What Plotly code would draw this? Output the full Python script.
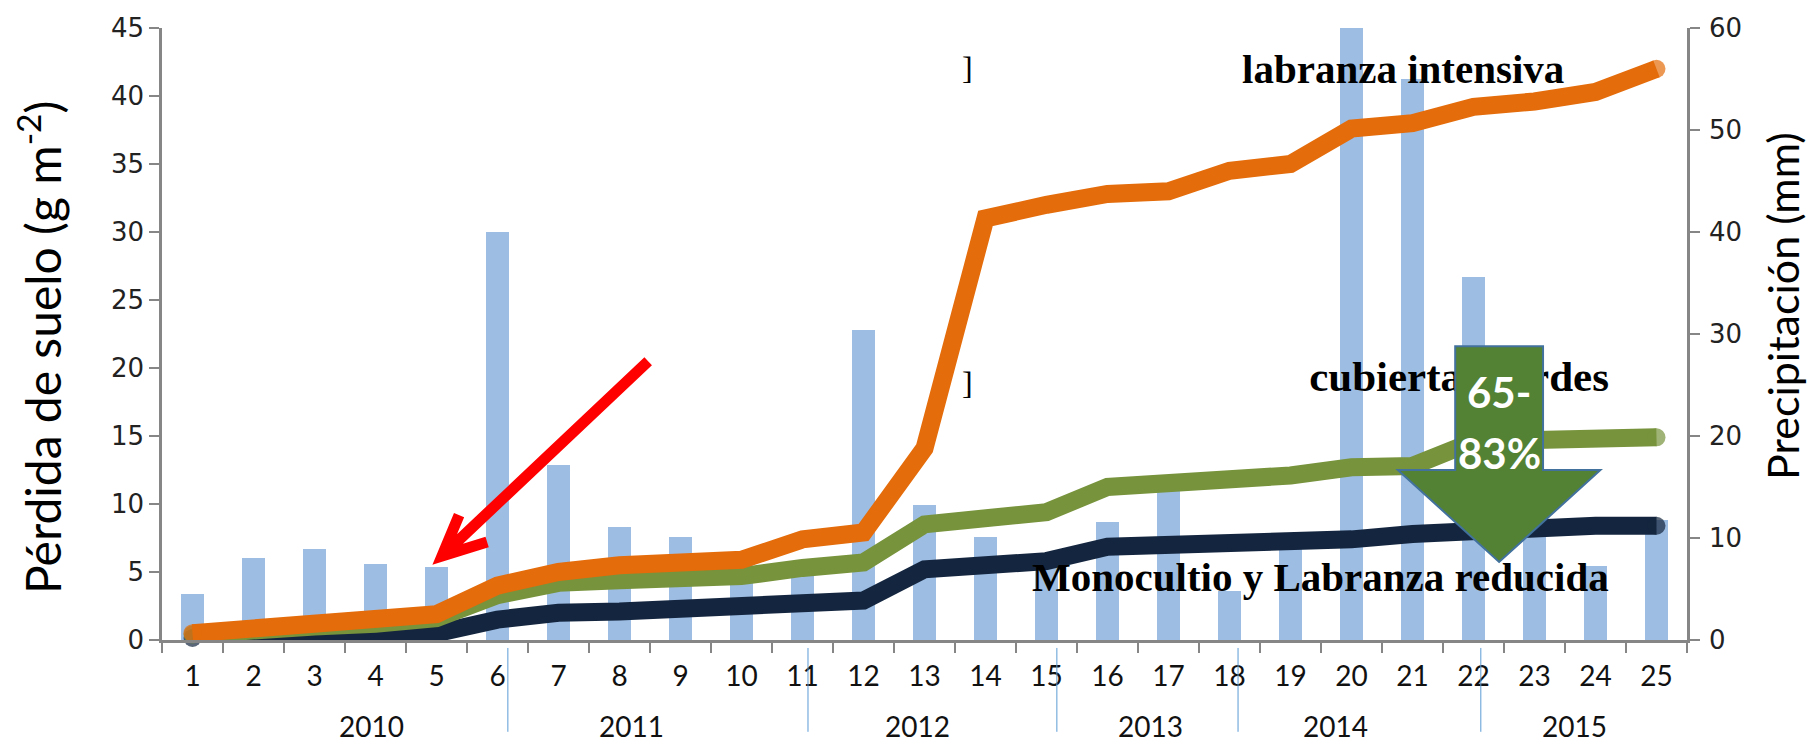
import plotly.graph_objects as go

# ---- data -------------------------------------------------------------
periodos = list(range(1, 26))
etiquetas_periodo = [str(p) for p in periodos]

# precipitation per period (mm), right axis
precipitacion = [4.5, 8.0, 8.9, 7.5, 7.2, 40.0, 17.2, 11.1, 10.1, 7.5,
                 6.4, 30.4, 13.2, 10.1, 7.5, 11.6, 15.0, 4.8, 9.0, 60.0,
                 55.0, 35.6, 14.0, 7.3, 11.8]

# cumulative soil loss (g m-2), left axis
labranza_intensiva = [0.5, 0.9, 1.2, 1.4, 1.9, 4.0, 5.0, 5.5, 5.6, 5.9,
                      7.4, 7.9, 14.1, 31.0, 32.0, 32.8, 33.0, 34.5, 35.0, 37.6,
                      38.0, 39.2, 39.6, 40.3, 42.0]
cubiertas_verdes = [0.4, 0.8, 1.0, 1.2, 1.6, 3.3, 4.2, 4.4, 4.5, 4.7,
                    5.3, 5.7, 8.5, 9.0, 9.4, 11.25, 11.5, 11.8, 12.1, 12.7,
                    12.8, 14.6, 14.8, 14.9, 14.9]
labranza_reducida = [0.15, 0.25, 0.3, 0.4, 0.5, 1.5, 2.0, 2.1, 2.3, 2.4,
                     2.8, 2.9, 5.2, 5.4, 5.8, 6.85, 7.0, 7.0, 7.1, 7.4,
                     7.8, 8.1, 8.3, 8.4, 8.4]

anios = ["2010", "2011", "2012", "2013", "2014", "2015"]

# ---- layout constants -------------------------------------------------
W, H = 1808, 744
ML, MR, MT, MB = 162, 121, 28, 104
PW, PH = W - ML - MR, H - MT - MB

anio_centros = [3.93, 8.19, 12.88, 16.7, 19.74, 23.65]
separadores = [6.17, 11.09, 15.17, 18.14, 22.12]

AXIS_GRAY = "#868686"
SERIF = "Liberation Serif"
SANS = "Lato, Open Sans, sans-serif"


def px(xp):
    return (xp - ML) / PW


def py(yp):
    return (H - MB - yp) / PH


def cap_sizes(n, s):
    return [s if i in (0, n - 1) else 0 for i in range(n)]


fig = go.Figure()

fig.add_trace(go.Bar(
    x=periodos, y=precipitacion, yaxis="y", width=0.39,
    marker=dict(color="#9dbde3", line=dict(width=0)),
    name="Precipitación", showlegend=False,
))

# drawn bottom-up so the orange series stays on top
for serie, color in [(labranza_reducida, "#14263f"),
                     (cubiertas_verdes, "#77933c"),
                     (labranza_intensiva, "#e46c0a")]:
    fig.add_trace(go.Scatter(
        x=periodos, y=serie, yaxis="y2", mode="lines+markers",
        line=dict(color=color, width=18),
        marker=dict(color=color, size=cap_sizes(len(serie), 18), line=dict(width=0)),
        cliponaxis=False, showlegend=False,
    ))

# series label that sits under the arrow shape
fig.add_trace(go.Scatter(
    x=[24.22], y=[19.1], yaxis="y2", mode="text",
    text=["<b>cubiertas verdes</b>"], textposition="middle left",
    textfont=dict(family=SERIF, size=43, color="#000000"),
    showlegend=False, hoverinfo="skip",
))

shapes = []
for s in separadores:
    shapes.append(dict(type="line", xref="x", yref="paper", x0=s, x1=s,
                       y0=-0.013, y1=-0.150, line=dict(color="#5b9bd5", width=1)))

# big green reduction arrow
shapes.append(dict(
    type="path", xref="x", yref="y2", layer="above",
    path="M 21.70,21.6 L 23.14,21.6 L 23.14,12.5 L 24.08,12.5 "
         "L 22.42,5.74 L 20.76,12.5 L 21.70,12.5 Z",
    fillcolor="#548235", line=dict(color="#41719c", width=2),
))

# red pointer arrow
shapes.append(dict(
    type="path", xref="x", yref="y2", layer="above",
    path="M 8.47,20.5 L 5.09,6.18 M 5.37,9.19 L 5.09,6.18 L 5.83,7.2",
    line=dict(color="#ff0000", width=11),
))

annotations = []
for a, c in zip(anios, anio_centros):
    annotations.append(dict(text=a, x=c, xref="x", y=py(726), yref="paper",
                            xanchor="center", yanchor="middle", showarrow=False,
                            font=dict(family=SANS, size=28, color="#111111")))

serif_font = dict(family=SERIF, size=41, color="#000000")
annotations += [
    dict(text="<b>labranza intensiva</b>", x=px(1566), y=py(69), xref="paper", yref="paper",
         xanchor="right", yanchor="middle", showarrow=False, font=serif_font),
    dict(text="]", x=px(968), y=py(68), xref="paper", yref="paper",
         xanchor="center", yanchor="middle", showarrow=False,
         font=dict(family=SERIF, size=32, color="#000000")),
    dict(text="]", x=px(968), y=py(383), xref="paper", yref="paper",
         xanchor="center", yanchor="middle", showarrow=False,
         font=dict(family=SERIF, size=32, color="#000000")),
    dict(text="<b>Monocultio y Labranza reducida</b>", x=px(1030), y=py(577),
         xref="paper", yref="paper", xanchor="left", yanchor="middle", showarrow=False,
         font=serif_font),
    dict(text="<b>65-</b>", x=22.42, y=18.2, xref="x", yref="y2", showarrow=False,
         xanchor="center", yanchor="middle",
         font=dict(family=SANS, size=42, color="#ffffff")),
    dict(text="<b>83%</b>", x=22.42, y=13.75, xref="x", yref="y2", showarrow=False,
         xanchor="center", yanchor="middle",
         font=dict(family=SANS, size=42, color="#ffffff")),
    dict(text="Pérdida de suelo (g m<sup>-2</sup>)", x=px(40), y=py(348),
         xref="paper", yref="paper", textangle=-90, showarrow=False,
         xanchor="center", yanchor="middle",
         font=dict(family=SANS, size=48, color="#000000")),
    dict(text="Precipitación (mm)", x=px(1782), y=py(306),
         xref="paper", yref="paper", textangle=-90, showarrow=False,
         xanchor="center", yanchor="middle",
         font=dict(family=SANS, size=43, color="#000000")),
]

fig.update_layout(
    width=W, height=H,
    margin=dict(l=ML, r=MR, t=MT, b=MB),
    paper_bgcolor="#ffffff", plot_bgcolor="#ffffff",
    showlegend=False, bargap=0,
    xaxis=dict(
        range=[0.5, 25.5], tickmode="array", tickvals=periodos, ticktext=etiquetas_periodo,
        ticks="outside", ticklen=10, tickcolor="rgba(0,0,0,0)",
        minor=dict(tickmode="array", tickvals=[p + 0.5 for p in [0] + periodos],
                   ticks="outside", ticklen=10, tickwidth=2, tickcolor=AXIS_GRAY),
        showline=True, linecolor=AXIS_GRAY, linewidth=2.5,
        showgrid=False, zeroline=False,
        tickfont=dict(family=SANS, size=28, color="#111111"),
    ),
    yaxis=dict(
        side="right", range=[0, 60], tickmode="linear", tick0=0, dtick=10,
        ticks="outside", ticklen=10, tickwidth=2, tickcolor=AXIS_GRAY,
        showline=True, linecolor=AXIS_GRAY, linewidth=2.5,
        showgrid=False, zeroline=False, ticklabelstandoff=4,
        tickfont=dict(family="DejaVu Sans", size=26, color="#222222"),
    ),
    yaxis2=dict(
        overlaying="y", side="left", anchor="x", range=[0, 45], tickmode="linear",
        tick0=0, dtick=5, ticks="outside", ticklen=10, tickwidth=2, tickcolor=AXIS_GRAY,
        showline=True, linecolor=AXIS_GRAY, linewidth=2.5,
        showgrid=False, zeroline=False, ticklabelstandoff=0,
        tickfont=dict(family="DejaVu Sans", size=26, color="#222222"),
    ),
    shapes=shapes,
    annotations=annotations,
)

fig.write_html("out.html")
